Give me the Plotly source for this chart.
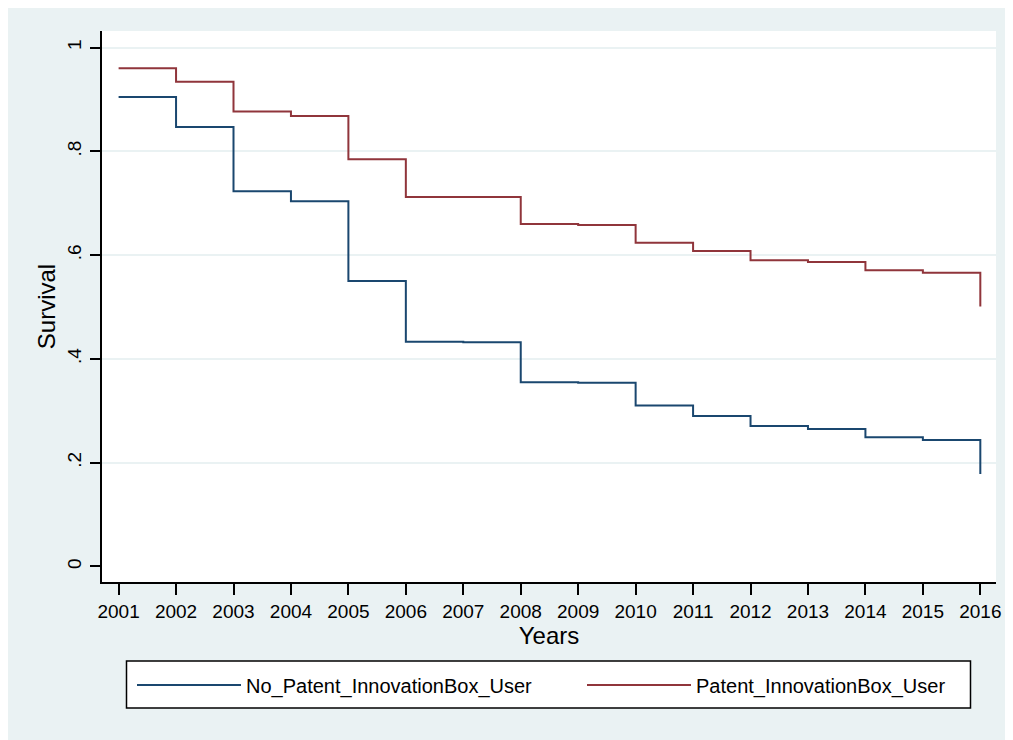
import plotly.graph_objects as go

years = list(range(2001, 2017))
no_patent_user = [0.905, 0.847, 0.723, 0.704, 0.550, 0.433, 0.432, 0.355, 0.354,
                  0.310, 0.290, 0.2705, 0.265, 0.249, 0.2435, 0.178]
patent_user = [0.960, 0.934, 0.877, 0.868, 0.785, 0.712, 0.712, 0.660, 0.658,
               0.624, 0.608, 0.590, 0.587, 0.571, 0.566, 0.501]
y_ticks = [0, 0.2, 0.4, 0.6, 0.8, 1.0]
y_tick_text = ["0", ".2", ".4", ".6", ".8", "1"]

BG = "#EAF2F3"
FONT = "Arial, Liberation Sans, sans-serif"

# page body has an 8px margin: the figure starts at page (8, 8)
OFF = 8
W, H = 1013 - OFF, 740 - OFF
ML, MR, MT, MB = 102 - OFF, 17, 31 - OFF, 158
PW, PH = W - ML - MR, H - MT - MB


def px_x(x):
    return (x - OFF - ML) / PW


def px_y(y):
    return (H - MB - (y - OFF)) / PH


fig = go.Figure()
fig.add_trace(go.Scatter(x=years, y=no_patent_user, mode="lines", line_shape="hv",
                         line=dict(color="#1A476F", width=2),
                         name="No_Patent_InnovationBox_User", legend="legend"))
fig.add_trace(go.Scatter(x=years, y=patent_user, mode="lines", line_shape="hv",
                         line=dict(color="#90353B", width=2),
                         name="Patent_InnovationBox_User", legend="legend2"))

leg_common = dict(orientation="h", yanchor="middle", xanchor="left", borderwidth=0,
                  bgcolor="rgba(0,0,0,0)", font=dict(size=20, family=FONT, color="black"),
                  itemwidth=104, valign="middle")

fig.update_layout(
    width=W, height=H,
    margin=dict(l=ML, r=MR, t=MT, b=MB, autoexpand=False),
    paper_bgcolor=BG, plot_bgcolor="white",
    font=dict(family=FONT, color="black"),
    showlegend=True,
    legend=dict(x=px_x(132), y=px_y(685), **leg_common),
    legend2=dict(x=px_x(582), y=px_y(685), **leg_common),
    shapes=[
        dict(type="rect", xref="paper", yref="paper", x0=px_x(126.5), x1=px_x(970.5),
             y0=px_y(708), y1=px_y(661), fillcolor="white",
             line=dict(color="black", width=1.5), layer="below"),
    ],
)
fig.update_xaxes(range=[2000.711, 2016.273], tickmode="array", tickvals=years,
                 ticks="outside", ticklen=11, tickwidth=1.5, tickcolor="black",
                 showline=True, linecolor="black", linewidth=1.5, showgrid=False,
                 zeroline=False, tickfont=dict(size=19), automargin=False,
                 title=dict(text="Years", font=dict(size=24), standoff=0))
fig.update_yaxes(range=[-0.030, 1.032], tickmode="array", tickvals=y_ticks, ticktext=y_tick_text,
                 tickangle=-90, ticks="outside", ticklen=10, tickwidth=1.5, tickcolor="black",
                 showline=True, linecolor="black", linewidth=1.5,
                 showgrid=True, gridcolor=BG, gridwidth=2,
                 zeroline=True, zerolinecolor="white", zerolinewidth=2,
                 tickfont=dict(size=19), ticklabelstandoff=2, automargin=False,
                 title=dict(text="Survival", font=dict(size=24), standoff=1))

fig.write_html("out.html", config={"displayModeBar": False})
